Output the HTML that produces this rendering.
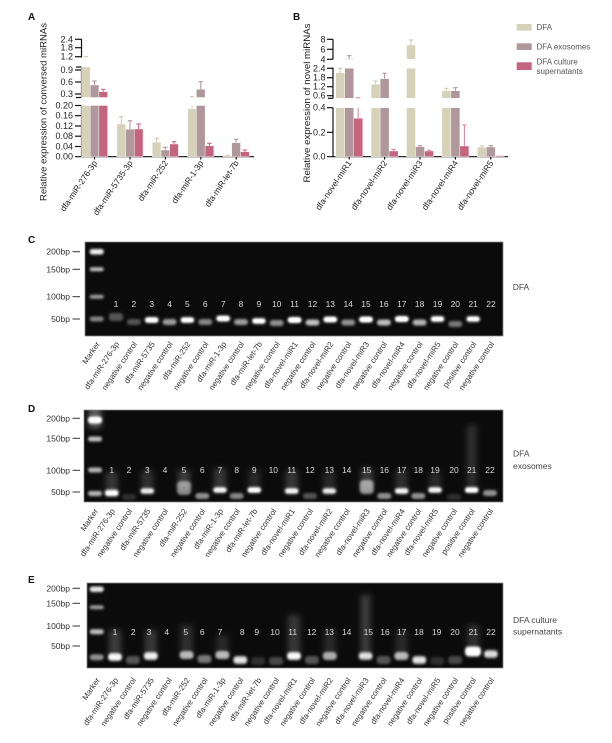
<!DOCTYPE html>
<html><head><meta charset="utf-8">
<style>
html,body{margin:0;padding:0;background:#fff;}
svg{display:block;font-family:"Liberation Sans",Arial,sans-serif;}
.tk{font-size:9px;fill:#222;text-anchor:end;}
.xl{font-size:8.5px;fill:#222;text-anchor:end;}
.gl{font-size:8px;fill:#333;text-anchor:end;}
.bp{font-size:8.5px;fill:#333;text-anchor:end;}
.num{font-size:8.5px;fill:#d8d8d8;text-anchor:middle;}
.lt{font-size:8.5px;fill:#444;}
.lg{font-size:8px;fill:#555;}
.pl{font-size:10px;font-weight:bold;fill:#111;}
</style></head>
<body>
<svg width="612" height="743" viewBox="0 0 612 743" xmlns="http://www.w3.org/2000/svg">
<defs>
<filter id="b1" x="-50%" y="-150%" width="200%" height="400%"><feGaussianBlur stdDeviation="1.3"/></filter>
<filter id="b0" x="-50%" y="-150%" width="200%" height="400%"><feGaussianBlur stdDeviation="0.7"/></filter>
<filter id="b3" x="-100%" y="-50%" width="300%" height="200%"><feGaussianBlur stdDeviation="3"/></filter>
<clipPath id="cC"><rect x="85" y="242" width="418" height="94"/></clipPath>
<clipPath id="cD"><rect x="84" y="410" width="419" height="92"/></clipPath>
<clipPath id="cE"><rect x="87" y="583" width="416" height="85"/></clipPath>
</defs>

<!-- ================= PANEL A ================= -->
<text class="pl" x="28" y="20">A</text>
<text transform="translate(46.5,112) rotate(-90)" text-anchor="middle" font-size="9.5" fill="#222" textLength="178" lengthAdjust="spacingAndGlyphs">Relative expression of conversed miRNAs</text>

<g stroke="#111" stroke-width="1.2" fill="none">
<line x1="81.5" y1="39" x2="81.5" y2="57.5"/>
<line x1="75" y1="39.3" x2="81.5" y2="39.3"/><line x1="75" y1="47.7" x2="81.5" y2="47.7"/><line x1="75" y1="56.7" x2="81.5" y2="56.7"/>
<line x1="81.5" y1="67" x2="81.5" y2="97.5"/>
<line x1="76" y1="67" x2="81.5" y2="67"/><line x1="75" y1="70" x2="81.5" y2="70"/><line x1="75" y1="82" x2="81.5" y2="82"/><line x1="75" y1="94" x2="81.5" y2="94"/><line x1="76" y1="97.5" x2="81.5" y2="97.5"/>
<line x1="81.5" y1="105.5" x2="81.5" y2="156.7"/>
<line x1="75" y1="105.5" x2="81.5" y2="105.5"/><line x1="75" y1="115.7" x2="81.5" y2="115.7"/><line x1="75" y1="126" x2="81.5" y2="126"/><line x1="75" y1="136.2" x2="81.5" y2="136.2"/><line x1="75" y1="146.5" x2="81.5" y2="146.5"/>
<line x1="75" y1="156.7" x2="254" y2="156.7"/>
<line x1="94.5" y1="156.7" x2="94.5" y2="159.5"/><line x1="130" y1="156.7" x2="130" y2="159.5"/><line x1="165.4" y1="156.7" x2="165.4" y2="159.5"/><line x1="200.8" y1="156.7" x2="200.8" y2="159.5"/><line x1="236.2" y1="156.7" x2="236.2" y2="159.5"/>
</g>
<text class="tk" x="73" y="42.3">2.4</text><text class="tk" x="73" y="50.7">1.8</text><text class="tk" x="73" y="59.7">1.2</text>
<text class="tk" x="73" y="73">0.9</text><text class="tk" x="73" y="85">0.6</text><text class="tk" x="73" y="97">0.3</text>
<text class="tk" x="73" y="108.5">0.20</text><text class="tk" x="73" y="118.7">0.16</text><text class="tk" x="73" y="129">0.12</text><text class="tk" x="73" y="139.2">0.08</text><text class="tk" x="73" y="149.5">0.04</text><text class="tk" x="73" y="159.7">0.00</text>

<!-- bars A -->
<g stroke="#fff" stroke-width="0.4">
<!-- g1 -->
<rect x="81.5" y="105.5" width="8.7" height="51.2" fill="#d6d2b9"/><rect x="81.5" y="67" width="8.7" height="30.5" fill="#d6d2b9"/>
<rect x="90.2" y="105.5" width="8.7" height="51.2" fill="#b0979c"/><rect x="90.2" y="85" width="8.7" height="12.5" fill="#b0979c"/>
<rect x="98.9" y="105.5" width="8.7" height="51.2" fill="#c5647f"/><rect x="98.9" y="91.7" width="8.7" height="5.8" fill="#c5647f"/>
<!-- g2 -->
<rect x="116.9" y="124" width="8.7" height="32.7" fill="#d6d2b9"/>
<rect x="125.6" y="129.3" width="8.7" height="27.4" fill="#b0979c"/>
<rect x="134.3" y="129" width="8.7" height="27.7" fill="#c5647f"/>
<!-- g3 -->
<rect x="152.3" y="142.3" width="8.7" height="14.4" fill="#d6d2b9"/>
<rect x="161" y="150" width="8.7" height="6.7" fill="#b0979c"/>
<rect x="169.7" y="144" width="8.7" height="12.7" fill="#c5647f"/>
<!-- g4 -->
<rect x="187.7" y="108.7" width="8.7" height="48" fill="#d6d2b9"/>
<rect x="196.4" y="105.5" width="8.7" height="51.2" fill="#b0979c"/><rect x="196.4" y="89.3" width="8.7" height="8.2" fill="#b0979c"/>
<rect x="205.1" y="145.7" width="8.7" height="11" fill="#c5647f"/>
<!-- g5 -->
<rect x="223.1" y="155.8" width="8.7" height="0.9" fill="#d6d2b9"/>
<rect x="231.8" y="142.7" width="8.7" height="14" fill="#b0979c"/>
<rect x="240.5" y="151.7" width="8.7" height="5" fill="#c5647f"/>
</g>
<g stroke-width="1.1" fill="none">
<g stroke="#d2cdb3">
<line x1="85.85" y1="57.5" x2="85.85" y2="56.5"/><line x1="83.6" y1="56.5" x2="88.1" y2="56.5"/>
<line x1="121.25" y1="124" x2="121.25" y2="116.7"/><line x1="119" y1="116.7" x2="123.5" y2="116.7"/>
<line x1="156.65" y1="142.3" x2="156.65" y2="138.3"/><line x1="154.4" y1="138.3" x2="158.9" y2="138.3"/>
<line x1="192.05" y1="108.7" x2="192.05" y2="105.5"/><line x1="192.05" y1="97.5" x2="192.05" y2="96.7"/><line x1="189.8" y1="96.7" x2="194.3" y2="96.7"/>
<line x1="225.2" y1="155.2" x2="229.7" y2="155.2"/>
</g>
<g stroke="#b3979e">
<line x1="94.55" y1="85" x2="94.55" y2="81"/><line x1="92.3" y1="81" x2="96.8" y2="81"/>
<line x1="129.95" y1="129.3" x2="129.95" y2="120.7"/><line x1="127.7" y1="120.7" x2="132.2" y2="120.7"/>
<line x1="165.35" y1="150" x2="165.35" y2="147.3"/><line x1="163.1" y1="147.3" x2="167.6" y2="147.3"/>
<line x1="200.75" y1="89.3" x2="200.75" y2="81.7"/><line x1="198.5" y1="81.7" x2="203" y2="81.7"/>
<line x1="236.15" y1="142.7" x2="236.15" y2="139.3"/><line x1="233.9" y1="139.3" x2="238.4" y2="139.3"/>
</g>
<g stroke="#c86a85">
<line x1="103.25" y1="91.7" x2="103.25" y2="89.3"/><line x1="101" y1="89.3" x2="105.5" y2="89.3"/>
<line x1="138.65" y1="129" x2="138.65" y2="124"/><line x1="136.4" y1="124" x2="140.9" y2="124"/>
<line x1="174.05" y1="144" x2="174.05" y2="141.7"/><line x1="171.8" y1="141.7" x2="176.3" y2="141.7"/>
<line x1="209.45" y1="145.7" x2="209.45" y2="143.3"/><line x1="207.2" y1="143.3" x2="211.7" y2="143.3"/>
<line x1="244.85" y1="151.7" x2="244.85" y2="150"/><line x1="242.6" y1="150" x2="247.1" y2="150"/>
</g>
</g>
<text class="xl" transform="translate(97.5,163) rotate(-56)">dfa-miR-276-3p</text>
<text class="xl" transform="translate(133,163) rotate(-56)">dfa-miR-5735-3p</text>
<text class="xl" transform="translate(168.4,163) rotate(-56)">dfa-miR-252</text>
<text class="xl" transform="translate(203.8,163) rotate(-56)">dfa-miR-1-3p</text>
<text class="xl" transform="translate(239.2,163) rotate(-56)">dfa-miR-let-7b</text>

<!-- ================= PANEL B ================= -->
<text class="pl" x="293" y="20">B</text>
<text transform="translate(310,103) rotate(-90)" text-anchor="middle" font-size="9.5" fill="#222" textLength="159" lengthAdjust="spacingAndGlyphs">Relative expression of novel miRNAs</text>
<g stroke="#111" stroke-width="1.2" fill="none">
<line x1="333" y1="39.3" x2="333" y2="59.3"/>
<line x1="327" y1="39.3" x2="333" y2="39.3"/><line x1="327" y1="49.3" x2="333" y2="49.3"/><line x1="327" y1="59.3" x2="333" y2="59.3"/>
<line x1="333" y1="67.5" x2="333" y2="98.3"/>
<line x1="327" y1="68.3" x2="333" y2="68.3"/><line x1="327" y1="77.7" x2="333" y2="77.7"/><line x1="327" y1="86.7" x2="333" y2="86.7"/><line x1="327" y1="95.7" x2="333" y2="95.7"/><line x1="328" y1="98.3" x2="333" y2="98.3"/>
<line x1="333" y1="107.7" x2="333" y2="156.7"/>
<line x1="327" y1="107.7" x2="333" y2="107.7"/><line x1="327" y1="132.3" x2="333" y2="132.3"/>
<line x1="327" y1="156.7" x2="508" y2="156.7"/>
<line x1="349.2" y1="156.7" x2="349.2" y2="159.5"/><line x1="384.6" y1="156.7" x2="384.6" y2="159.5"/><line x1="420" y1="156.7" x2="420" y2="159.5"/><line x1="455.4" y1="156.7" x2="455.4" y2="159.5"/><line x1="490.8" y1="156.7" x2="490.8" y2="159.5"/>
</g>
<text class="tk" x="325.5" y="42.3">8</text><text class="tk" x="325.5" y="52.3">6</text><text class="tk" x="325.5" y="62.3">4</text>
<text class="tk" x="325.5" y="71.3">2.4</text><text class="tk" x="325.5" y="80.7">1.8</text><text class="tk" x="325.5" y="89.7">1.2</text><text class="tk" x="325.5" y="98.7">0.6</text>
<text class="tk" x="325.5" y="110.7">0.4</text><text class="tk" x="325.5" y="135.3">0.2</text><text class="tk" x="325.5" y="159.7">0.0</text>

<g stroke="#fff" stroke-width="0.4">
<!-- g1 -->
<rect x="335.7" y="107.7" width="9" height="49" fill="#d6d2b9"/><rect x="335.7" y="72.7" width="9" height="25.6" fill="#d6d2b9"/>
<rect x="344.7" y="107.7" width="9" height="49" fill="#b0979c"/><rect x="344.7" y="68.3" width="9" height="30" fill="#b0979c"/><rect x="344.7" y="58.6" width="9" height="0.8" fill="#b0979c"/>
<rect x="353.7" y="118.3" width="9" height="38.4" fill="#c5647f"/>
<!-- g2 -->
<rect x="371.1" y="107.7" width="9" height="49" fill="#d6d2b9"/><rect x="371.1" y="84.3" width="9" height="14" fill="#d6d2b9"/>
<rect x="380.1" y="107.7" width="9" height="49" fill="#b0979c"/><rect x="380.1" y="78.7" width="9" height="19.6" fill="#b0979c"/>
<rect x="389.1" y="151" width="9" height="5.7" fill="#c5647f"/>
<!-- g3 -->
<rect x="406.5" y="107.7" width="9" height="49" fill="#d6d2b9"/><rect x="406.5" y="68.3" width="9" height="30" fill="#d6d2b9"/><rect x="406.5" y="45" width="9" height="14.3" fill="#d6d2b9"/>
<rect x="415.5" y="146.7" width="9" height="10" fill="#b0979c"/>
<rect x="424.5" y="151" width="9" height="5.7" fill="#c5647f"/>
<!-- g4 -->
<rect x="441.9" y="107.7" width="9" height="49" fill="#d6d2b9"/><rect x="441.9" y="90.7" width="9" height="7.6" fill="#d6d2b9"/>
<rect x="450.9" y="107.7" width="9" height="49" fill="#b0979c"/><rect x="450.9" y="90.7" width="9" height="7.6" fill="#b0979c"/>
<rect x="459.9" y="146" width="9" height="10.7" fill="#c5647f"/>
<!-- g5 -->
<rect x="477.3" y="147.3" width="9" height="9.4" fill="#d6d2b9"/>
<rect x="486.3" y="147" width="9" height="9.7" fill="#b0979c"/>
<rect x="495.3" y="155.6" width="9" height="1.1" fill="#c5647f"/>
</g>
<g stroke-width="1.1" fill="none">
<g stroke="#d2cdb3">
<line x1="340.2" y1="72.7" x2="340.2" y2="68.3"/><line x1="338" y1="68.3" x2="342.4" y2="68.3"/>
<line x1="375.6" y1="84.3" x2="375.6" y2="81"/><line x1="373.4" y1="81" x2="377.8" y2="81"/>
<line x1="411" y1="45" x2="411" y2="40"/><line x1="408.8" y1="40" x2="413.2" y2="40"/>
<line x1="446.4" y1="90.7" x2="446.4" y2="88.3"/><line x1="444.2" y1="88.3" x2="448.6" y2="88.3"/>
<line x1="481.8" y1="147.3" x2="481.8" y2="146"/><line x1="479.6" y1="146" x2="484" y2="146"/>
</g>
<g stroke="#b3979e">
<line x1="349.2" y1="58.6" x2="349.2" y2="55.7"/><line x1="347" y1="55.7" x2="351.4" y2="55.7"/>
<line x1="384.6" y1="78.7" x2="384.6" y2="73.3"/><line x1="382.4" y1="73.3" x2="386.8" y2="73.3"/>
<line x1="420" y1="146.7" x2="420" y2="145.7"/><line x1="417.8" y1="145.7" x2="422.2" y2="145.7"/>
<line x1="455.4" y1="90.7" x2="455.4" y2="87.7"/><line x1="453.2" y1="87.7" x2="457.6" y2="87.7"/>
<line x1="490.8" y1="147" x2="490.8" y2="145.7"/><line x1="488.6" y1="145.7" x2="493" y2="145.7"/>
</g>
<g stroke="#d98aa1">
<line x1="358.2" y1="118.3" x2="358.2" y2="107.7"/><line x1="358.2" y1="98.3" x2="358.2" y2="97.7"/><line x1="356" y1="97.7" x2="360.4" y2="97.7"/>
<line x1="393.6" y1="151" x2="393.6" y2="149.3"/><line x1="391.4" y1="149.3" x2="395.8" y2="149.3"/>
<line x1="429" y1="151" x2="429" y2="150.3"/><line x1="426.8" y1="150.3" x2="431.2" y2="150.3"/>
<line x1="464.4" y1="146" x2="464.4" y2="125"/><line x1="462.2" y1="125" x2="466.6" y2="125"/>
</g>
</g>
<text class="xl" transform="translate(352,163) rotate(-56)">dfa-novel-miR1</text>
<text class="xl" transform="translate(387.6,163) rotate(-56)">dfa-novel-miR2</text>
<text class="xl" transform="translate(423,163) rotate(-56)">dfa-novel-miR3</text>
<text class="xl" transform="translate(458.4,163) rotate(-56)">dfa-novel-miR4</text>
<text class="xl" transform="translate(493.8,163) rotate(-56)">dfa-novel-miR5</text>

<!-- legend -->
<rect x="516.7" y="24" width="15" height="6.7" fill="#d6d2b9"/>
<rect x="516.7" y="43.3" width="15" height="6.7" fill="#b0979c"/>
<rect x="516.7" y="62.3" width="15" height="7.7" fill="#c5647f"/>
<text class="lg" x="536.5" y="30">DFA</text>
<text class="lg" x="536.5" y="49.5">DFA exosomes</text>
<text class="lg" x="536.5" y="64.5">DFA culture</text>
<text class="lg" x="536.5" y="74">supernatants</text>

<!-- ================= PANEL C ================= -->
<text class="pl" x="28" y="243">C</text>
<rect x="85" y="242" width="418" height="94" fill="#0b0b0b" stroke="#888" stroke-width="0.8"/>
<g clip-path="url(#cC)">
<g filter="url(#b1)" fill="#fff">
<rect x="89.7" y="249" width="14" height="5.5" rx="2.5" opacity="0.95"/>
<rect x="89.7" y="267.3" width="14" height="4" rx="2" opacity="0.75"/>
<rect x="89.7" y="294.7" width="14" height="4" rx="2" opacity="0.6"/>
<rect x="89.7" y="316.5" width="14" height="5" rx="2.5" opacity="0.5"/>
<rect x="109" y="313" width="14" height="8" rx="3" opacity="0.3"/>
<rect x="126.9" y="319" width="14" height="6" rx="3" opacity="0.3"/>
<rect x="144.7" y="317" width="14" height="6" rx="3" opacity="0.9"/>
<rect x="162.6" y="319" width="14" height="6" rx="3" opacity="0.6"/>
<rect x="180.4" y="317" width="14" height="6" rx="3" opacity="0.85"/>
<rect x="198.3" y="319" width="14" height="6" rx="3" opacity="0.5"/>
<rect x="216.2" y="315.5" width="14" height="6" rx="3" opacity="0.95"/>
<rect x="234" y="319" width="14" height="6" rx="3" opacity="0.6"/>
<rect x="251.9" y="318" width="14" height="6" rx="3" opacity="0.85"/>
<rect x="269.7" y="320" width="14" height="6" rx="3" opacity="0.55"/>
<rect x="287.6" y="317" width="14" height="6" rx="3" opacity="1"/>
<rect x="305.5" y="319.5" width="14" height="6" rx="3" opacity="0.75"/>
<rect x="323.3" y="316.5" width="14" height="6" rx="3" opacity="0.95"/>
<rect x="341.2" y="319.5" width="14" height="6" rx="3" opacity="0.55"/>
<rect x="359" y="316.5" width="14" height="6" rx="3" opacity="1"/>
<rect x="376.9" y="319.5" width="14" height="6" rx="3" opacity="0.75"/>
<rect x="394.8" y="316" width="14" height="6" rx="3" opacity="1"/>
<rect x="412.6" y="319.5" width="14" height="6" rx="3" opacity="0.7"/>
<rect x="430.5" y="316" width="14" height="6" rx="3" opacity="0.85"/>
<rect x="448.3" y="321" width="14" height="6" rx="3" opacity="0.45"/>
<rect x="466.2" y="316" width="14" height="6" rx="3" opacity="0.8"/>
</g>
<g filter="url(#b0)" fill="#fff">
<rect x="146.2" y="318.2" width="11" height="3.6" rx="1.8"/>
<rect x="181.9" y="318.2" width="11" height="3.6" rx="1.8"/>
<rect x="217.7" y="316.7" width="11" height="3.6" rx="1.8"/>
<rect x="253.4" y="319.2" width="11" height="3.6" rx="1.8"/>
<rect x="289.1" y="318.2" width="11" height="3.6" rx="1.8"/>
<rect x="324.8" y="317.7" width="11" height="3.6" rx="1.8"/>
<rect x="360.5" y="317.7" width="11" height="3.6" rx="1.8"/>
<rect x="396.3" y="317.2" width="11" height="3.6" rx="1.8"/>
<rect x="432" y="317.2" width="11" height="3.6" rx="1.8"/>
<rect x="467.7" y="317.2" width="11" height="3.6" rx="1.8"/>
</g>
</g>
<g stroke="#333" stroke-width="1"><line x1="72.5" y1="251.7" x2="80" y2="251.7"/><line x1="72.5" y1="269.3" x2="80" y2="269.3"/><line x1="72.5" y1="296.7" x2="80" y2="296.7"/><line x1="72.5" y1="319" x2="80" y2="319"/></g>
<text class="bp" x="70" y="254.7">200bp</text><text class="bp" x="70" y="272.3">150bp</text><text class="bp" x="70" y="299.7">100bp</text><text class="bp" x="70" y="322">50bp</text>
<g class="num">
<text class="num" x="116" y="307">1</text><text class="num" x="133.9" y="307">2</text><text class="num" x="151.7" y="307">3</text><text class="num" x="169.6" y="307">4</text><text class="num" x="187.4" y="307">5</text><text class="num" x="205.3" y="307">6</text><text class="num" x="223.2" y="307">7</text><text class="num" x="241" y="307">8</text><text class="num" x="258.9" y="307">9</text><text class="num" x="276.7" y="307">10</text><text class="num" x="294.6" y="307">11</text><text class="num" x="312.5" y="307">12</text><text class="num" x="330.3" y="307">13</text><text class="num" x="348.2" y="307">14</text><text class="num" x="366" y="307">15</text><text class="num" x="383.9" y="307">16</text><text class="num" x="401.8" y="307">17</text><text class="num" x="419.6" y="307">18</text><text class="num" x="437.5" y="307">19</text><text class="num" x="455.3" y="307">20</text><text class="num" x="473.2" y="307">21</text><text class="num" x="491" y="307">22</text>
</g>
<text class="lt" x="512.7" y="290">DFA</text>
<text class="gl" transform="translate(100.2,344) rotate(-56)">Marker</text>
<text class="gl" transform="translate(119.5,344) rotate(-56)">dfa-miR-276-3p</text>
<text class="gl" transform="translate(137.4,344) rotate(-56)">negative control</text>
<text class="gl" transform="translate(155.2,344) rotate(-56)">dfa-miR-5735</text>
<text class="gl" transform="translate(173.1,344) rotate(-56)">negative control</text>
<text class="gl" transform="translate(190.9,344) rotate(-56)">dfa-miR-252</text>
<text class="gl" transform="translate(208.8,344) rotate(-56)">negative control</text>
<text class="gl" transform="translate(226.7,344) rotate(-56)">dfa-miR-1-3p</text>
<text class="gl" transform="translate(244.5,344) rotate(-56)">negative control</text>
<text class="gl" transform="translate(262.4,344) rotate(-56)">dfa-miR-let-7b</text>
<text class="gl" transform="translate(280.2,344) rotate(-56)">negative control</text>
<text class="gl" transform="translate(298.1,344) rotate(-56)">dfa-novel-miR1</text>
<text class="gl" transform="translate(316,344) rotate(-56)">negative control</text>
<text class="gl" transform="translate(333.8,344) rotate(-56)">dfa-novel-miR2</text>
<text class="gl" transform="translate(351.7,344) rotate(-56)">negative control</text>
<text class="gl" transform="translate(369.5,344) rotate(-56)">dfa-novel-miR3</text>
<text class="gl" transform="translate(387.4,344) rotate(-56)">negative control</text>
<text class="gl" transform="translate(405.3,344) rotate(-56)">dfa-novel-miR4</text>
<text class="gl" transform="translate(423.1,344) rotate(-56)">negative control</text>
<text class="gl" transform="translate(441,344) rotate(-56)">dfa-novel-miR5</text>
<text class="gl" transform="translate(458.8,344) rotate(-56)">negative control</text>
<text class="gl" transform="translate(476.7,344) rotate(-56)">positive control</text>
<text class="gl" transform="translate(494.5,344) rotate(-56)">negative control</text>

<!-- ================= PANEL D ================= -->
<text class="pl" x="28" y="412">D</text>
<rect x="84" y="410" width="419" height="92" fill="#0b0b0b" stroke="#888" stroke-width="0.8"/>
<g clip-path="url(#cD)">
<g filter="url(#b3)" fill="#fff">
<rect x="89" y="408" width="12" height="20" opacity="0.35"/>
<rect x="105.7" y="472" width="12" height="22" opacity="0.18"/>
<rect x="141.3" y="470" width="12" height="22" opacity="0.15"/>
<rect x="178" y="470" width="12" height="20" opacity="0.2"/>
<rect x="214" y="468" width="12" height="22" opacity="0.18"/>
<rect x="248.3" y="470" width="12" height="20" opacity="0.12"/>
<rect x="285.7" y="470" width="12" height="22" opacity="0.18"/>
<rect x="323.3" y="472" width="12" height="20" opacity="0.12"/>
<rect x="360.7" y="468" width="12" height="22" opacity="0.2"/>
<rect x="395.7" y="470" width="12" height="22" opacity="0.15"/>
<rect x="429" y="472" width="12" height="18" opacity="0.12"/>
<rect x="466.7" y="425" width="10" height="65" opacity="0.14"/>
</g>
<g filter="url(#b1)" fill="#fff">
<rect x="88" y="416.5" width="14" height="7" rx="3" opacity="1"/>
<rect x="88" y="436.5" width="14" height="5" rx="2.5" opacity="0.75"/>
<rect x="88" y="467.5" width="14" height="5" rx="2.5" opacity="0.7"/>
<rect x="88" y="491" width="14" height="5" rx="2.5" opacity="0.7"/>
<rect x="104.7" y="489.5" width="14" height="7" rx="3" opacity="0.85"/>
<rect x="122" y="494" width="14" height="6" rx="3" opacity="0.15"/>
<rect x="140.3" y="488" width="14" height="6" rx="3" opacity="0.75"/>
<rect x="177" y="481" width="14" height="14" rx="4" opacity="0.5"/>
<rect x="195.3" y="493" width="14" height="6" rx="3" opacity="0.55"/>
<rect x="213" y="487" width="14" height="6" rx="3" opacity="0.8"/>
<rect x="229.7" y="493" width="14" height="6" rx="3" opacity="0.5"/>
<rect x="247.3" y="487" width="14" height="6" rx="3" opacity="0.85"/>
<rect x="284.7" y="488" width="14" height="6" rx="3" opacity="0.8"/>
<rect x="303" y="493" width="14" height="6" rx="3" opacity="0.3"/>
<rect x="322.3" y="488" width="14" height="6" rx="3" opacity="0.75"/>
<rect x="359.7" y="480" width="14" height="14" rx="4" opacity="0.55"/>
<rect x="377.3" y="493" width="14" height="6" rx="3" opacity="0.55"/>
<rect x="394.7" y="488" width="14" height="6" rx="3" opacity="0.8"/>
<rect x="411.3" y="493" width="14" height="6" rx="3" opacity="0.55"/>
<rect x="428" y="487" width="14" height="6" rx="3" opacity="0.8"/>
<rect x="447" y="494" width="14" height="6" rx="3" opacity="0.15"/>
<rect x="464.7" y="487" width="14" height="6" rx="3" opacity="0.85"/>
<rect x="483" y="490" width="14" height="6" rx="3" opacity="0.55"/>
</g>
<g filter="url(#b0)" fill="#fff">
<rect x="89.5" y="418.2" width="11" height="3.6" rx="1.8"/>
<rect x="106.2" y="491.2" width="11" height="3.6" rx="1.8"/>
<rect x="141.8" y="489.2" width="11" height="3.6" rx="1.8" opacity="0.6"/>
<rect x="214.5" y="488.2" width="11" height="3.6" rx="1.8" opacity="0.7"/>
<rect x="248.8" y="488.2" width="11" height="3.6" rx="1.8"/>
<rect x="286.2" y="489.2" width="11" height="3.6" rx="1.8" opacity="0.7"/>
<rect x="323.8" y="489.2" width="11" height="3.6" rx="1.8" opacity="0.6"/>
<rect x="396.2" y="489.2" width="11" height="3.6" rx="1.8" opacity="0.7"/>
<rect x="429.5" y="488.2" width="11" height="3.6" rx="1.8" opacity="0.7"/>
<rect x="466.2" y="488.2" width="11" height="3.6" rx="1.8"/>
</g>
</g>
<g stroke="#333" stroke-width="1"><line x1="72.5" y1="418.3" x2="80" y2="418.3"/><line x1="72.5" y1="438.3" x2="80" y2="438.3"/><line x1="72.5" y1="470.3" x2="80" y2="470.3"/><line x1="72.5" y1="492" x2="80" y2="492"/></g>
<text class="bp" x="70" y="421.3">200bp</text><text class="bp" x="70" y="441.3">150bp</text><text class="bp" x="70" y="473.3">100bp</text><text class="bp" x="70" y="495">50bp</text>
<text class="num" x="111.7" y="473">1</text><text class="num" x="129" y="473">2</text><text class="num" x="147.3" y="473">3</text><text class="num" x="165" y="473">4</text><text class="num" x="184" y="473">5</text><text class="num" x="202.3" y="473">6</text><text class="num" x="220" y="473">7</text><text class="num" x="236.7" y="473">8</text><text class="num" x="254.3" y="473">9</text><text class="num" x="273.3" y="473">10</text><text class="num" x="291.7" y="473">11</text><text class="num" x="310" y="473">12</text><text class="num" x="329.3" y="473">13</text><text class="num" x="346.7" y="473">14</text><text class="num" x="366.7" y="473">15</text><text class="num" x="384.3" y="473">16</text><text class="num" x="401.7" y="473">17</text><text class="num" x="418.3" y="473">18</text><text class="num" x="435" y="473">19</text><text class="num" x="454" y="473">20</text><text class="num" x="471.7" y="473">21</text><text class="num" x="490" y="473">22</text>
<text class="lt" x="513" y="456.5">DFA</text>
<text class="lt" x="513" y="469">exosomes</text>
<text class="gl" transform="translate(98.5,511) rotate(-56)">Marker</text>
<text class="gl" transform="translate(115.2,511) rotate(-56)">dfa-miR-276-3p</text>
<text class="gl" transform="translate(132.5,511) rotate(-56)">negative control</text>
<text class="gl" transform="translate(150.8,511) rotate(-56)">dfa-miR-5735</text>
<text class="gl" transform="translate(168.5,511) rotate(-56)">negative control</text>
<text class="gl" transform="translate(187.5,511) rotate(-56)">dfa-miR-252</text>
<text class="gl" transform="translate(205.8,511) rotate(-56)">negative control</text>
<text class="gl" transform="translate(223.5,511) rotate(-56)">dfa-miR-1-3p</text>
<text class="gl" transform="translate(240.2,511) rotate(-56)">negative control</text>
<text class="gl" transform="translate(257.8,511) rotate(-56)">dfa-miR-let-7b</text>
<text class="gl" transform="translate(276.8,511) rotate(-56)">negative control</text>
<text class="gl" transform="translate(295.2,511) rotate(-56)">dfa-novel-miR1</text>
<text class="gl" transform="translate(313.5,511) rotate(-56)">negative control</text>
<text class="gl" transform="translate(332.8,511) rotate(-56)">dfa-novel-miR2</text>
<text class="gl" transform="translate(350.2,511) rotate(-56)">negative control</text>
<text class="gl" transform="translate(370.2,511) rotate(-56)">dfa-novel-miR3</text>
<text class="gl" transform="translate(387.8,511) rotate(-56)">negative control</text>
<text class="gl" transform="translate(405.2,511) rotate(-56)">dfa-novel-miR4</text>
<text class="gl" transform="translate(421.8,511) rotate(-56)">negative control</text>
<text class="gl" transform="translate(438.5,511) rotate(-56)">dfa-novel-miR5</text>
<text class="gl" transform="translate(457.5,511) rotate(-56)">negative control</text>
<text class="gl" transform="translate(475.2,511) rotate(-56)">positive control</text>
<text class="gl" transform="translate(493.5,511) rotate(-56)">negative control</text>

<!-- ================= PANEL E ================= -->
<text class="pl" x="28" y="583">E</text>
<rect x="87" y="583" width="416" height="85" fill="#0b0b0b" stroke="#888" stroke-width="0.8"/>
<g clip-path="url(#cE)">
<g filter="url(#b3)" fill="#fff">
<rect x="109" y="630" width="12" height="25" opacity="0.2"/>
<rect x="144.8" y="630" width="12" height="25" opacity="0.18"/>
<rect x="180.6" y="625" width="12" height="28" opacity="0.15"/>
<rect x="216.4" y="635" width="12" height="20" opacity="0.12"/>
<rect x="288" y="615" width="12" height="40" opacity="0.18"/>
<rect x="323.8" y="630" width="12" height="25" opacity="0.12"/>
<rect x="360.6" y="595" width="10" height="60" opacity="0.2"/>
<rect x="395.4" y="630" width="12" height="25" opacity="0.12"/>
<rect x="467" y="625" width="12" height="25" opacity="0.15"/>
</g>
<g filter="url(#b1)" fill="#fff">
<rect x="89.7" y="586.5" width="14" height="5.5" rx="2.5" opacity="0.9"/>
<rect x="89.7" y="605.3" width="14" height="4" rx="2" opacity="0.6"/>
<rect x="89.7" y="629.2" width="14" height="5" rx="2.5" opacity="0.75"/>
<rect x="89.7" y="654.3" width="14" height="6" rx="3" opacity="0.55"/>
<rect x="108" y="653" width="14" height="8" rx="3.5" opacity="0.9"/>
<rect x="125.9" y="656" width="14" height="8" rx="3.5" opacity="0.3"/>
<rect x="143.8" y="652" width="14" height="8" rx="3.5" opacity="0.85"/>
<rect x="179.6" y="651" width="14" height="8" rx="3.5" opacity="0.7"/>
<rect x="197.5" y="655" width="14" height="8" rx="3.5" opacity="0.45"/>
<rect x="215.4" y="651" width="14" height="8" rx="3.5" opacity="0.7"/>
<rect x="233.3" y="656" width="14" height="8" rx="3.5" opacity="0.8"/>
<rect x="251.2" y="657" width="14" height="8" rx="3.5" opacity="0.15"/>
<rect x="269.1" y="657" width="14" height="8" rx="3.5" opacity="0.25"/>
<rect x="287" y="652" width="14" height="8" rx="3.5" opacity="0.9"/>
<rect x="304.9" y="656" width="14" height="8" rx="3.5" opacity="0.3"/>
<rect x="322.8" y="652" width="14" height="8" rx="3.5" opacity="0.65"/>
<rect x="358.6" y="652" width="14" height="8" rx="3.5" opacity="0.75"/>
<rect x="376.5" y="656" width="14" height="8" rx="3.5" opacity="0.3"/>
<rect x="394.4" y="652" width="14" height="8" rx="3.5" opacity="0.7"/>
<rect x="412.3" y="656" width="14" height="8" rx="3.5" opacity="0.8"/>
<rect x="430.2" y="657" width="14" height="8" rx="3.5" opacity="0.15"/>
<rect x="448.1" y="656" width="14" height="8" rx="3.5" opacity="0.25"/>
<rect x="465" y="646.5" width="16" height="10" rx="4" opacity="1"/>
<rect x="483.9" y="650" width="14" height="8" rx="3.5" opacity="0.75"/>
</g>
<g filter="url(#b0)" fill="#fff">
<rect x="109.5" y="655.2" width="11" height="3.6" rx="1.8" opacity="0.7"/>
<rect x="145.3" y="654.2" width="11" height="3.6" rx="1.8" opacity="0.6"/>
<rect x="234.8" y="658.2" width="11" height="3.6" rx="1.8" opacity="0.5"/>
<rect x="288.5" y="654.2" width="11" height="3.6" rx="1.8" opacity="0.7"/>
<rect x="360.1" y="654.2" width="11" height="3.6" rx="1.8" opacity="0.5"/>
<rect x="413.8" y="658.2" width="11" height="3.6" rx="1.8" opacity="0.5"/>
<rect x="467" y="649.5" width="12" height="4" rx="2"/>
<rect x="485.4" y="652.2" width="11" height="3.6" rx="1.8" opacity="0.5"/>
</g>
</g>
<g stroke="#333" stroke-width="1"><line x1="72.5" y1="588.3" x2="80" y2="588.3"/><line x1="72.5" y1="603.3" x2="80" y2="603.3"/><line x1="72.5" y1="626" x2="80" y2="626"/><line x1="72.5" y1="646" x2="80" y2="646"/></g>
<text class="bp" x="70" y="591.3">200bp</text><text class="bp" x="70" y="606.3">150bp</text><text class="bp" x="70" y="629">100bp</text><text class="bp" x="70" y="649">50bp</text>
<text class="num" x="115" y="635">1</text><text class="num" x="133.3" y="635">2</text><text class="num" x="149" y="635">3</text><text class="num" x="166.7" y="635">4</text><text class="num" x="185.7" y="635">5</text><text class="num" x="202.3" y="635">6</text><text class="num" x="220" y="635">7</text><text class="num" x="242.3" y="635">8</text><text class="num" x="256.7" y="635">9</text><text class="num" x="275" y="635">10</text><text class="num" x="292.7" y="635">11</text><text class="num" x="311.7" y="635">12</text><text class="num" x="329.3" y="635">13</text><text class="num" x="346.7" y="635">14</text><text class="num" x="368.3" y="635">15</text><text class="num" x="385" y="635">16</text><text class="num" x="401.7" y="635">17</text><text class="num" x="419" y="635">18</text><text class="num" x="436.7" y="635">19</text><text class="num" x="455" y="635">20</text><text class="num" x="473.3" y="635">21</text><text class="num" x="491" y="635">22</text>
<text class="lt" x="513" y="623">DFA culture</text>
<text class="lt" x="513" y="634.5">supernatants</text>
<text class="gl" transform="translate(100.2,680) rotate(-56)">Marker</text>
<text class="gl" transform="translate(118.5,680) rotate(-56)">dfa-miR-276-3p</text>
<text class="gl" transform="translate(136.4,680) rotate(-56)">negative control</text>
<text class="gl" transform="translate(154.3,680) rotate(-56)">dfa-miR-5735</text>
<text class="gl" transform="translate(172.2,680) rotate(-56)">negative control</text>
<text class="gl" transform="translate(190.1,680) rotate(-56)">dfa-miR-252</text>
<text class="gl" transform="translate(208,680) rotate(-56)">negative control</text>
<text class="gl" transform="translate(225.9,680) rotate(-56)">dfa-miR-1-3p</text>
<text class="gl" transform="translate(243.8,680) rotate(-56)">negative control</text>
<text class="gl" transform="translate(261.7,680) rotate(-56)">dfa-miR-let-7b</text>
<text class="gl" transform="translate(279.6,680) rotate(-56)">negative control</text>
<text class="gl" transform="translate(297.5,680) rotate(-56)">dfa-novel-miR1</text>
<text class="gl" transform="translate(315.4,680) rotate(-56)">negative control</text>
<text class="gl" transform="translate(333.3,680) rotate(-56)">dfa-novel-miR2</text>
<text class="gl" transform="translate(351.2,680) rotate(-56)">negative control</text>
<text class="gl" transform="translate(369.1,680) rotate(-56)">dfa-novel-miR3</text>
<text class="gl" transform="translate(387,680) rotate(-56)">negative control</text>
<text class="gl" transform="translate(404.9,680) rotate(-56)">dfa-novel-miR4</text>
<text class="gl" transform="translate(422.8,680) rotate(-56)">negative control</text>
<text class="gl" transform="translate(440.7,680) rotate(-56)">dfa-novel-miR5</text>
<text class="gl" transform="translate(458.6,680) rotate(-56)">negative control</text>
<text class="gl" transform="translate(476.5,680) rotate(-56)">positive control</text>
<text class="gl" transform="translate(494.4,680) rotate(-56)">negative control</text>
</svg>
</body></html>
